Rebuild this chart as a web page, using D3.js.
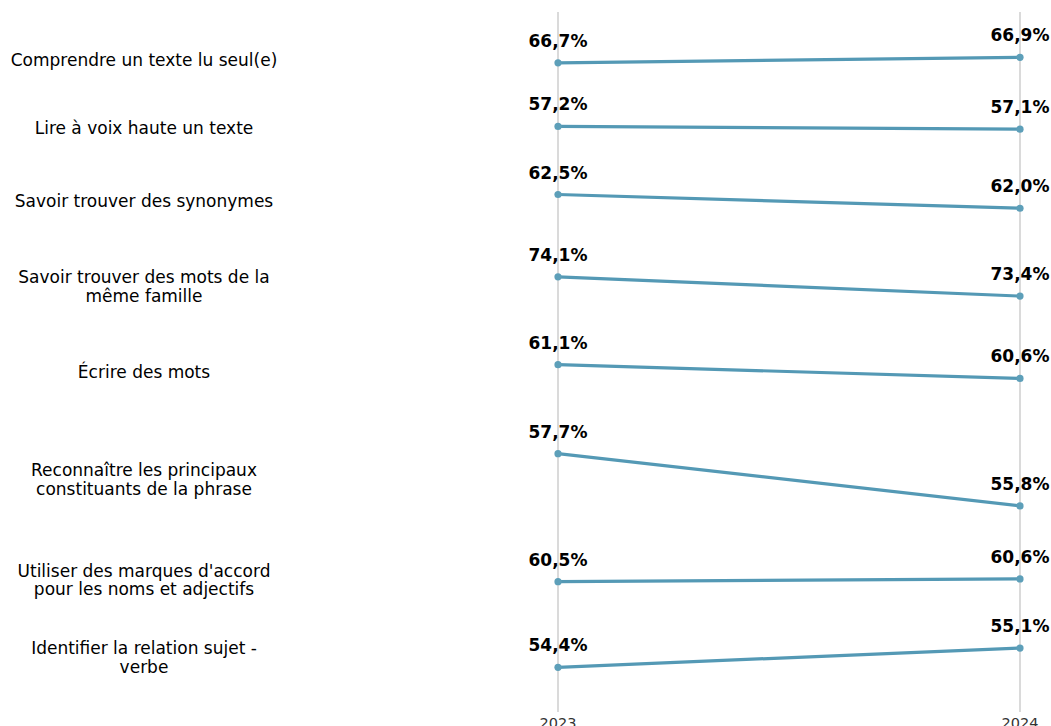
<!DOCTYPE html>
<html>
<head>
<meta charset="utf-8">
<script src="https://cdn.jsdelivr.net/npm/d3@7"></script>
<style>
  html, body { margin: 0; padding: 0; background: #ffffff; }
  svg { display: block; }
</style>
</head>
<body>
<svg id="chart" width="1051" height="726"></svg>
<script>
const categories = [
  "Comprendre un texte lu seul(e)",
  "Lire à voix haute un texte",
  "Savoir trouver des synonymes",
  "Savoir trouver des mots de la même famille",
  "Écrire des mots",
  "Reconnaître les principaux constituants de la phrase",
  "Utiliser des marques d'accord pour les noms et adjectifs",
  "Identifier la relation sujet - verbe"
];
const years = ["2023", "2024"];
const values2023 = [66.7, 57.2, 62.5, 74.1, 61.1, 57.7, 60.5, 54.4];
const values2024 = [66.9, 57.1, 62.0, 73.4, 60.6, 55.8, 60.6, 55.1];

(function () {
const svg = d3.select("#chart");
const lineColor = "#5499b5";
const gridColor = "#c6c6c6";

const x = d3.scalePoint().domain(years).range([558, 1020]);

// vertical year guides
svg.selectAll("line.guide").data(years).join("line")
  .attr("class", "guide")
  .attr("x1", d => x(d)).attr("x2", d => x(d))
  .attr("y1", 12).attr("y2", 712)
  .attr("stroke", gridColor).attr("stroke-width", 1.3);

// year labels
svg.selectAll("text.year").data(years).join("text")
  .attr("class", "year")
  .attr("x", d => x(d)).attr("y", 728)
  .attr("text-anchor", "middle")
  .attr("font-family", "DejaVu Sans")
  .attr("font-size", 14.5)
  .attr("fill", "#333")
  .text(d => d);

// per-row layout: constant pixels per percentage point
const pxPerPt = 27.5;
let yTop = 25.2;
const rows = categories.map((c, i) => {
  const a = values2023[i], b = values2024[i];
  const lo = Math.min(a, b), hi = Math.max(a, b);
  const r = (hi - lo) * pxPerPt;
  const pad = 31 + 0.2 * r;
  const band = r + 2 * pad;
  const y = d3.scaleLinear()
    .domain([lo - pad / pxPerPt, hi + pad / pxPerPt])
    .range([yTop + band, yTop]);
  yTop += band;
  return { cat: c, vals: [a, b], y };
});

function wrap(s, width) {
  const words = s.split(" ");
  const lines = [];
  let cur = "";
  words.forEach(w => {
    const t = cur ? cur + " " + w : w;
    if (t.length > width && cur) { lines.push(cur); cur = w; }
    else cur = t;
  });
  if (cur) lines.push(cur);
  return lines;
}

const fmt = v => d3.format(".1f")(v).replace(".", ",") + "%";
const line = d3.line();

rows.forEach(row => {
  const pts = years.map((yr, j) => [x(yr), row.y(row.vals[j])]);
  svg.append("path")
    .attr("d", line(pts))
    .attr("fill", "none")
    .attr("stroke", lineColor)
    .attr("stroke-width", 3.2);
  svg.selectAll(null).data(years).join("circle")
    .attr("cx", d => x(d))
    .attr("cy", (d, j) => row.y(row.vals[j]))
    .attr("r", 3.6)
    .attr("fill", "#5d9fb9");
  svg.selectAll(null).data(years).join("text")
    .attr("x", d => x(d))
    .attr("y", (d, j) => row.y(row.vals[j]) - 16)
    .attr("text-anchor", "middle")
    .attr("font-family", "DejaVu Sans")
    .attr("font-weight", "bold")
    .attr("font-size", 17)
    .attr("fill", "#000")
    .text((d, j) => fmt(row.vals[j]));

  const mid = (row.y(row.vals[0]) + row.y(row.vals[1])) / 2;
  const lines = wrap(row.cat, 30);
  const lh = 18.5;
  const t = svg.append("text")
    .attr("text-anchor", "middle")
    .attr("font-family", "DejaVu Sans")
    .attr("font-size", 17)
    .attr("fill", "#000");
  lines.forEach((l, k) => {
    t.append("tspan")
      .attr("x", 144)
      .attr("y", mid + (k - (lines.length - 1) / 2) * lh)
      .attr("dy", "0.35em")
      .text(l);
  });
});
})();
</script>
</body>
</html>
